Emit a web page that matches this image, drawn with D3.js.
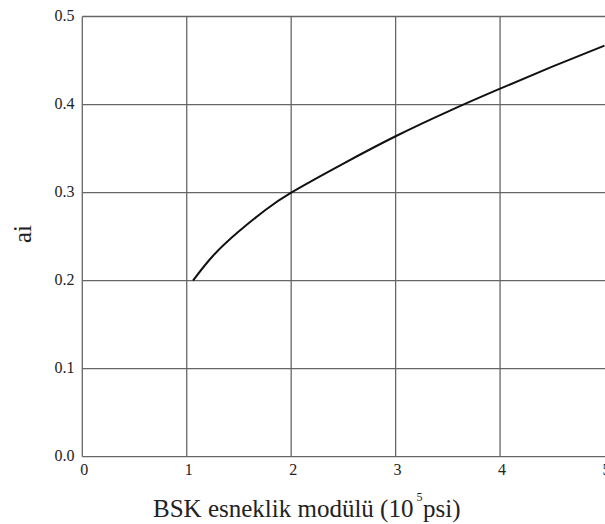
<!DOCTYPE html>
<html>
<head>
<meta charset="utf-8">
<script src="https://cdn.jsdelivr.net/npm/d3@7/dist/d3.min.js"></script>
<style>
  html, body { margin: 0; padding: 0; background: #fff; }
  svg { display: block; }
  text { font-family: "Liberation Serif", "Times New Roman", serif; fill: #222; }
</style>
</head>
<body>
<svg id="chart" width="605" height="524"></svg>
<script>
// Modulus of the asphalt layer (10^5 psi) and the layer coefficient ai
const modulus = [1.06, 1.25, 1.5, 1.75, 2.0, 2.5, 3.0, 3.5, 4.0, 4.5, 5.0];
const coeff   = [0.200, 0.228, 0.256, 0.280, 0.300, 0.333, 0.364, 0.392, 0.418, 0.443, 0.467];

const xTicks = [0, 1, 2, 3, 4, 5];
const yTicks = [0.0, 0.1, 0.2, 0.3, 0.4, 0.5];
const xGrid = [0, 1, 2, 3, 4];

const svg = d3.select("#chart");
const x = d3.scaleLinear().domain([0, 5]).range([82.3, 604.5]);
const y = d3.scaleLinear().domain([0, 0.5]).range([456.7, 16.5]);

const grid = svg.append("g").attr("stroke", "#666").attr("stroke-width", 1.3);
grid.selectAll(".v").data(xGrid).join("line")
  .attr("x1", d => x(d)).attr("x2", d => x(d))
  .attr("y1", y(0)).attr("y2", y(0.5));
grid.selectAll(".h").data(yTicks).join("line")
  .attr("x1", x(0)).attr("x2", 605)
  .attr("y1", d => y(d)).attr("y2", d => y(d));

// Tick labels
svg.append("g").selectAll("text").data(yTicks).join("text")
  .attr("x", 74.5).attr("y", d => y(d) + 4)
  .attr("text-anchor", "end").attr("font-size", 16)
  .text(d => d.toFixed(1));
svg.append("g").selectAll("text").data(xTicks).join("text")
  .attr("x", d => x(d) + 2).attr("y", 474.5)
  .attr("text-anchor", "middle").attr("font-size", 16)
  .text(d => d);

// Curve
const pts = modulus.map((m, i) => [m, coeff[i]]);
svg.append("path").datum(pts)
  .attr("fill", "none").attr("stroke", "#111").attr("stroke-width", 2)
  .attr("d", d3.line().x(d => x(d[0])).y(d => y(d[1])).curve(d3.curveNatural));

// Axis titles
const xt = svg.append("text").attr("x", 153).attr("y", 517).attr("font-size", 25);
xt.append("tspan").text("BSK esneklik modülü (10");
xt.append("tspan").text("5").attr("font-size", 12).attr("x", 416.5).attr("y", 501);
xt.append("tspan").text("psi)").attr("x", 423).attr("y", 517);

svg.append("text")
  .attr("transform", "translate(31,234) rotate(-90)")
  .attr("text-anchor", "middle").attr("font-size", 25)
  .text("ai");
</script>
</body>
</html>
